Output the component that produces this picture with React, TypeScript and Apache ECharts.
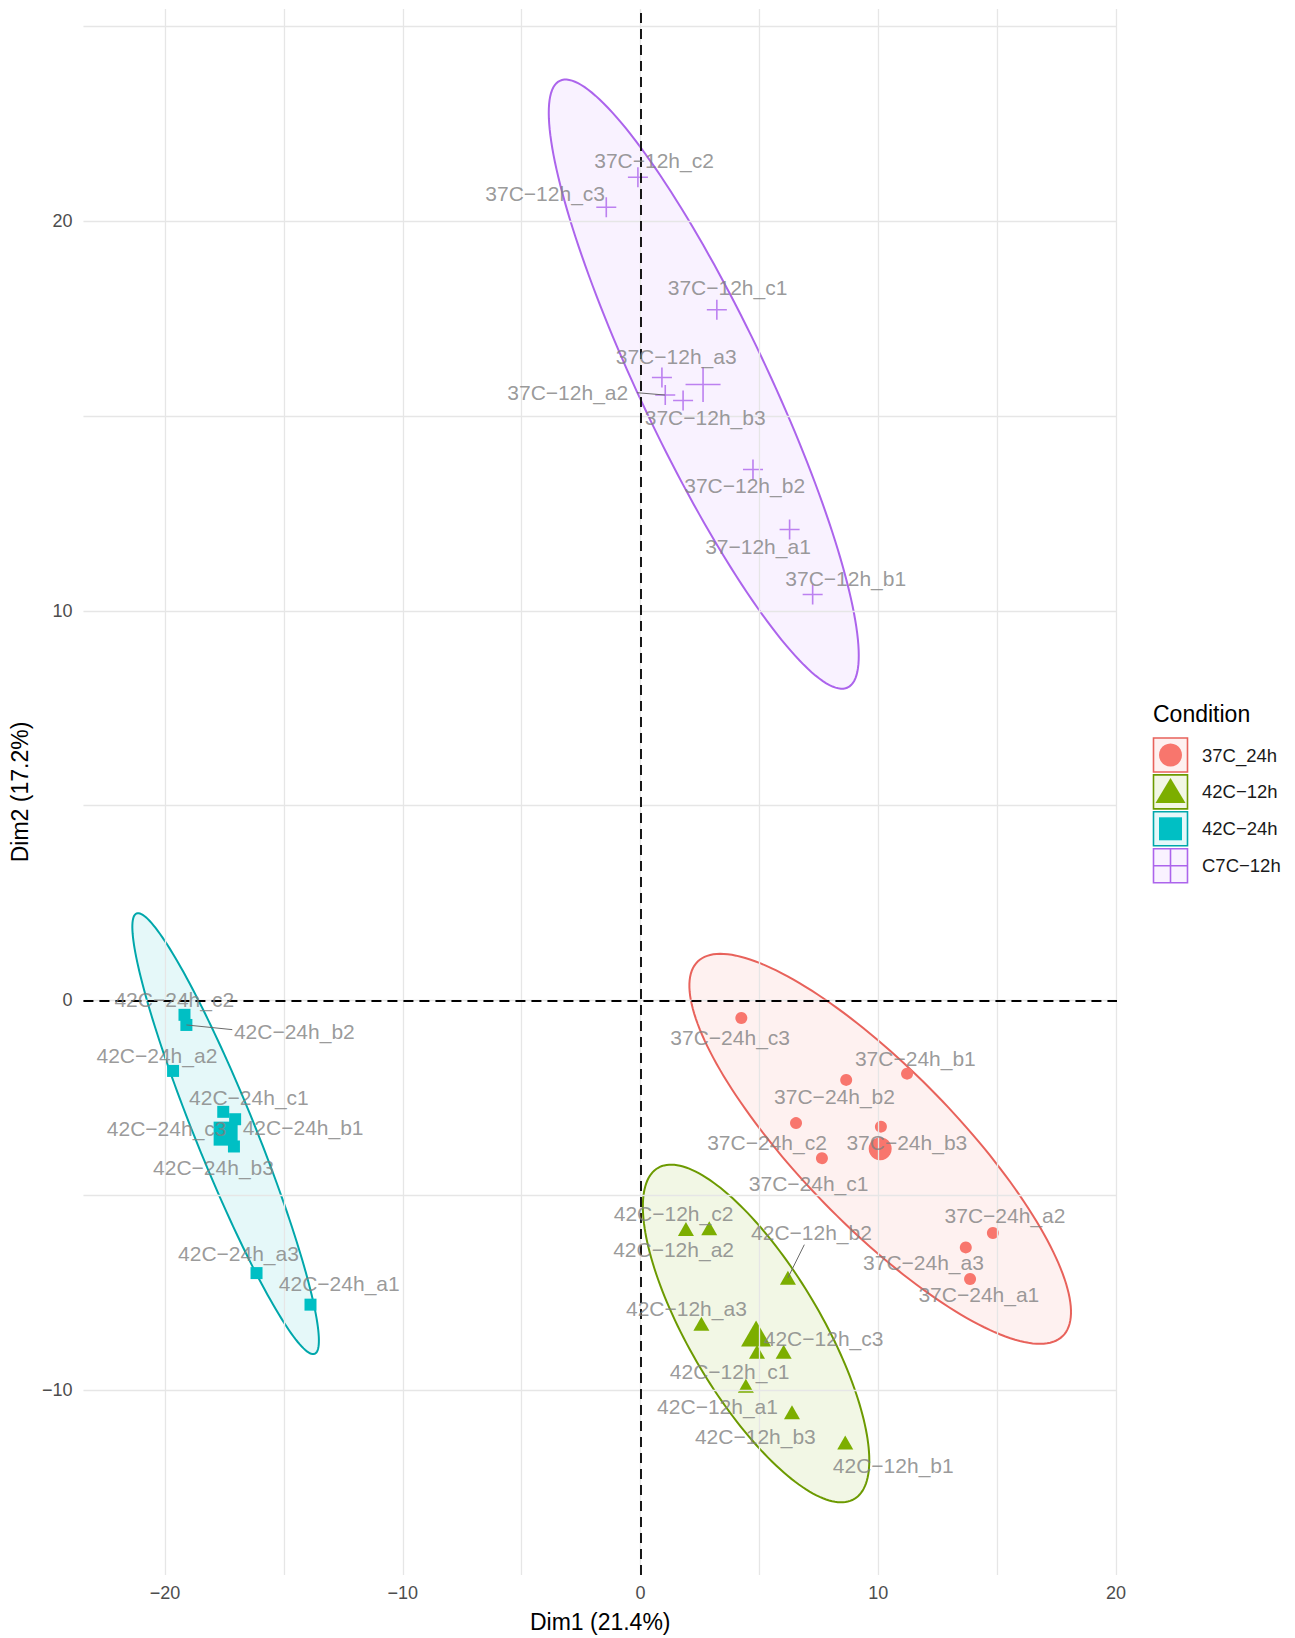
import React, { useEffect, useRef } from 'react';
import * as echarts from 'echarts';

const M = '\u2212';
const FONT = '"Liberation Sans", Arial, Helvetica, sans-serif';

// ---------- groups ----------
const groupNames = ['37C_24h', `42C${M}12h`, `42C${M}24h`, `C7C${M}12h`];
const groupColors = ['#F8766D', '#7CAE00', '#00BFC4', '#C77CFF'];
const groupLineColors = ['#E8625B', '#6C9A00', '#00A7AB', '#AC64EC'];

// ---------- axes ----------
const xMin = -23.43;
const xMax = 20.04;
const yMin = -14.75;
const yMax = 25.45;
const xTicks = [-20, -10, 0, 10, 20];
const yTicks = [-10, 0, 10, 20];
const xGrid = [-20, -15, -10, -5, 0, 5, 10, 15, 20];
const yGrid = [-10, -5, 0, 5, 10, 15, 20, 25];

// ---------- 37C_24h (red) ----------
const redNames = [`37C${M}24h_a1`, `37C${M}24h_a2`, `37C${M}24h_a3`, `37C${M}24h_b1`, `37C${M}24h_b2`, `37C${M}24h_b3`, `37C${M}24h_c1`, `37C${M}24h_c2`, `37C${M}24h_c3`];
const redX = [13.86, 14.82, 13.68, 11.21, 8.65, 10.11, 7.63, 6.54, 4.24];
const redY = [-7.15, -5.97, -6.34, -1.88, -2.04, -3.24, -4.05, -3.15, -0.45];
const redLabelX = [14.23, 15.33, 11.9, 11.56, 8.16, 11.2, 7.07, 5.32, 3.77];
const redLabelY = [-7.56, -5.53, -6.74, -1.48, -2.47, -3.65, -4.69, -3.65, -0.94];

// ---------- 42C-12h (green) ----------
const greenNames = [`42C${M}12h_a1`, `42C${M}12h_a2`, `42C${M}12h_a3`, `42C${M}12h_b1`, `42C${M}12h_b2`, `42C${M}12h_b3`, `42C${M}12h_c1`, `42C${M}12h_c2`, `42C${M}12h_c3`];
const greenX = [4.43, 2.89, 2.56, 8.61, 6.2, 6.37, 4.9, 1.91, 6.02];
const greenY = [-9.89, -5.85, -8.3, -11.35, -7.12, -10.57, -9.02, -5.87, -9.02];
const greenLabelX = [3.24, 1.39, 1.93, 10.63, 7.19, 4.83, 3.75, 1.39, 7.7];
const greenLabelY = [-10.42, -6.4, -7.9, -11.93, -5.97, -11.19, -9.52, -5.48, -8.69];

// ---------- 42C-24h (cyan) ----------
const cyanNames = [`42C${M}24h_a1`, `42C${M}24h_a2`, `42C${M}24h_a3`, `42C${M}24h_b1`, `42C${M}24h_b2`, `42C${M}24h_b3`, `42C${M}24h_c1`, `42C${M}24h_c2`, `42C${M}24h_c3`];
const cyanX = [-13.88, -19.66, -16.15, -17.05, -19.1, -17.1, -17.55, -19.18, -17.4];
const cyanY = [-7.81, -1.81, -7.0, -3.05, -0.63, -3.75, -2.86, -0.37, -3.5];
const cyanLabelX = [-12.67, -20.34, -16.91, -14.19, -14.56, -17.96, -16.47, -19.61, -19.93];
const cyanLabelY = [-7.26, -1.42, -6.49, -3.26, -0.8, -4.28, -2.48, 0.02, -3.3];

// ---------- C7C-12h (purple) ----------
const purpleNames = [`37${M}12h_a1`, `37C${M}12h_a2`, `37C${M}12h_a3`, `37C${M}12h_b1`, `37C${M}12h_b2`, `37C${M}12h_b3`, `37C${M}12h_c1`, `37C${M}12h_c2`, `37C${M}12h_c3`];
const purpleX = [6.27, 1.04, 0.9, 7.24, 4.73, 1.79, 3.21, -0.11, -1.44];
const purpleY = [12.09, 15.54, 15.99, 10.42, 13.63, 15.4, 17.73, 21.13, 20.36];
const purpleLabelX = [4.94, -3.06, 1.5, 8.63, 4.38, 2.72, 3.66, 0.57, -4.01];
const purpleLabelY = [11.64, 15.6, 16.52, 10.83, 13.21, 14.97, 18.29, 21.56, 20.72];

// ---------- group means (large symbols) ----------
const meanX = [10.08, 4.86, -17.45, 2.63];
const meanY = [-3.81, -8.55, -3.42, 15.81];

// ---------- ellipses: centre + two conjugate half-axes (data units) ----------
const ellipseCX = [10.08, 4.86, -17.45, 2.66];
const ellipseCY = [-3.81, -8.55, -3.42, 15.82];
const ellipseUX = [7.675, 4.132, 3.745, 6.053];
const ellipseUY = [-4.807, -4.248, -5.652, -7.787];
const ellipseVX = [2.345, 2.367, 1.169, 2.421];
const ellipseVY = [1.396, 0.86, 0.289, 0.703];

// ---------- label leader segments ----------
const leaderFromX = [-19.1, -0.15, 6.2];
const leaderFromY = [-0.63, 15.6, -7.12];
const leaderToX = [-17.17, 1.04, 6.89];
const leaderToY = [-0.75, 15.54, -6.27];

const PLUS = 'path://M0,10L20,10M10,0L10,20';
const groupSymbols = ['circle', 'triangle', 'rect', PLUS];
const smallSizes: any[] = [12, [16, 14], 12, 20];
const meanSizes: any[] = [23, [30, 26], 24, 35];

function rgba(hex: string, a: number) {
  const n = parseInt(hex.slice(1), 16);
  return `rgba(${(n >> 16) & 255},${(n >> 8) & 255},${n & 255},${a})`;
}

export default function App() {
  const ref = useRef<HTMLDivElement>(null);
  useEffect(() => {
    if (!ref.current) return;
    const chart = echarts.init(ref.current, null, { renderer: 'svg' });

    const groupsX = [redX, greenX, cyanX, purpleX];
    const groupsY = [redY, greenY, cyanY, purpleY];
    const groupsN = [redNames, greenNames, cyanNames, purpleNames];
    const groupsLX = [redLabelX, greenLabelX, cyanLabelX, purpleLabelX];
    const groupsLY = [redLabelY, greenLabelY, cyanLabelY, purpleLabelY];

    const pointSeries: any[] = groupNames.map((g, gi) => {
      const isPlus = gi === 3;
      return {
        type: 'scatter',
        name: g,
        z: 3,
        silent: true,
        symbol: groupSymbols[gi],
        symbolSize: smallSizes[gi],
        itemStyle: isPlus
          ? { color: 'rgba(0,0,0,0)', borderColor: groupLineColors[gi], borderWidth: 1.6 }
          : { color: groupColors[gi], opacity: 1 },
        data: groupsX[gi].map((x, i) => [x, groupsY[gi][i]]),
      };
    });

    const meanSeries: any[] = groupNames.map((g, gi) => {
      const isPlus = gi === 3;
      return {
        type: 'scatter',
        name: g + ' mean',
        z: 3,
        silent: true,
        symbol: groupSymbols[gi],
        symbolSize: meanSizes[gi],
        itemStyle: isPlus
          ? { color: 'rgba(0,0,0,0)', borderColor: groupLineColors[gi], borderWidth: 1.6 }
          : { color: groupColors[gi], opacity: 1 },
        data: [[meanX[gi], meanY[gi]]],
      };
    });

    const labelData: any[] = [];
    groupsN.forEach((names, gi) => {
      names.forEach((n, i) => {
        labelData.push({ name: n, value: [groupsLX[gi][i], groupsLY[gi][i]] });
      });
    });

    const ellipseSeries = {
      type: 'custom',
      z: 1,
      silent: true,
      data: ellipseCX.map((cx, i) => [cx, ellipseCY[i]]),
      encode: { x: 0, y: 1 },
      renderItem: (params: any, api: any) => {
        const i = params.dataIndex;
        const pts: number[][] = [];
        const N = 180;
        for (let k = 0; k < N; k++) {
          const t = (k / N) * Math.PI * 2;
          const c = Math.cos(t);
          const s = Math.sin(t);
          pts.push(
            api.coord([
              ellipseCX[i] + ellipseUX[i] * c + ellipseVX[i] * s,
              ellipseCY[i] + ellipseUY[i] * c + ellipseVY[i] * s,
            ])
          );
        }
        return {
          type: 'polygon',
          shape: { points: pts },
          style: { fill: rgba(groupColors[i], 0.1), stroke: groupLineColors[i], lineWidth: 2 },
        };
      },
    };

    const gridSeries = {
      type: 'scatter',
      z: 0,
      silent: true,
      data: [],
      markLine: {
        silent: true,
        symbol: ['none', 'none'],
        label: { show: false },
        animation: false,
        lineStyle: { color: '#E6E6E6', width: 1.3, type: 'solid' },
        emphasis: { disabled: true },
        data: [...xGrid.map((v) => ({ xAxis: v })), ...yGrid.map((v) => ({ yAxis: v }))],
      },
    };

    const zeroSeries = {
      type: 'scatter',
      z: 2,
      silent: true,
      data: [],
      markLine: {
        silent: true,
        symbol: ['none', 'none'],
        label: { show: false },
        animation: false,
        lineStyle: { color: '#000000', width: 1.8, type: [10, 6] },
        emphasis: { disabled: true },
        data: [{ xAxis: 0 }, { yAxis: 0 }],
      },
    };

    const leaderSeries = {
      type: 'scatter',
      z: 4,
      silent: true,
      data: [],
      markLine: {
        silent: true,
        symbol: ['none', 'none'],
        label: { show: false },
        animation: false,
        lineStyle: { color: '#6A6A6A', width: 1, type: 'solid' },
        emphasis: { disabled: true },
        data: leaderFromX.map((x, i) => [
          { coord: [x, leaderFromY[i]] },
          { coord: [leaderToX[i], leaderToY[i]] },
        ]),
      },
    };

    const labelSeries = {
      type: 'scatter',
      z: 5,
      silent: true,
      symbolSize: 1,
      itemStyle: { color: 'rgba(0,0,0,0)' },
      label: {
        show: true,
        position: 'inside',
        formatter: '{b}',
        color: '#808080',
        fontSize: 21,
        fontFamily: FONT,
      },
      labelLayout: { hideOverlap: false },
      data: labelData,
    };

    // legend drawn as graphic
    const legendEls: any[] = [
      {
        type: 'text',
        x: 1153,
        y: 714,
        style: { text: 'Condition', fontSize: 23, fontFamily: FONT, fill: '#000', align: 'left', verticalAlign: 'middle' },
      },
    ];
    groupNames.forEach((g, i) => {
      const top = 738 + i * 36.9;
      const cx = 1170.5;
      const cy = top + 17;
      legendEls.push({
        type: 'rect',
        shape: { x: 1153.5, y: top, width: 34, height: 34 },
        style: { fill: rgba(groupColors[i], 0.1), stroke: groupLineColors[i], lineWidth: 1.6 },
      });
      if (i === 0) {
        legendEls.push({ type: 'circle', shape: { cx, cy, r: 11.5 }, style: { fill: groupColors[i] } });
      } else if (i === 1) {
        legendEls.push({
          type: 'polygon',
          shape: { points: [[cx, top + 3], [cx - 15, top + 28], [cx + 15, top + 28]] },
          style: { fill: groupColors[i] },
        });
      } else if (i === 2) {
        legendEls.push({ type: 'rect', shape: { x: cx - 11.5, y: cy - 11.5, width: 23, height: 23 }, style: { fill: groupColors[i] } });
      } else {
        legendEls.push({ type: 'line', shape: { x1: 1153.5, y1: cy, x2: 1187.5, y2: cy }, style: { stroke: groupLineColors[i], lineWidth: 1.6 } });
        legendEls.push({ type: 'line', shape: { x1: cx, y1: top, x2: cx, y2: top + 34 }, style: { stroke: groupLineColors[i], lineWidth: 1.6 } });
      }
      legendEls.push({
        type: 'text',
        x: 1202,
        y: cy,
        style: { text: g, fontSize: 18.5, fontFamily: FONT, fill: '#1A1A1A', align: 'left', verticalAlign: 'middle' },
      });
    });

    const option: any = {
      animation: false,
      backgroundColor: '#FFFFFF',
      grid: { left: 83, right: 178, top: 9, bottom: 63, containLabel: false },
      xAxis: {
        type: 'value',
        min: xMin,
        max: xMax,
        name: 'Dim1 (21.4%)',
        nameLocation: 'middle',
        nameGap: 35,
        nameTextStyle: { fontSize: 23, fontFamily: FONT, color: '#000' },
        axisLine: { show: false },
        axisTick: { show: false, customValues: xTicks },
        splitLine: { show: false },
        axisLabel: {
          customValues: xTicks,
          margin: 9,
          fontSize: 18,
          fontFamily: FONT,
          color: '#4D4D4D',
          formatter: (v: number) => (v < 0 ? M + Math.abs(v) : String(v)),
        },
      },
      yAxis: {
        type: 'value',
        min: yMin,
        max: yMax,
        name: 'Dim2 (17.2%)',
        nameLocation: 'middle',
        nameGap: 45,
        nameRotate: 90,
        nameTextStyle: { fontSize: 23, fontFamily: FONT, color: '#000' },
        axisLine: { show: false },
        axisTick: { show: false, customValues: yTicks },
        splitLine: { show: false },
        axisLabel: {
          customValues: yTicks,
          margin: 11,
          fontSize: 18,
          fontFamily: FONT,
          color: '#4D4D4D',
          formatter: (v: number) => (v < 0 ? M + Math.abs(v) : String(v)),
        },
      },
      graphic: legendEls,
      series: [gridSeries, ellipseSeries, zeroSeries, ...pointSeries, ...meanSeries, leaderSeries, labelSeries],
    };

    chart.setOption(option);
    return () => chart.dispose();
  }, []);

  return (
    <div
      ref={ref}
      style={{ position: 'fixed', left: 0, top: 0, width: '1295px', height: '1638px', background: '#fff' }}
    />
  );
}
